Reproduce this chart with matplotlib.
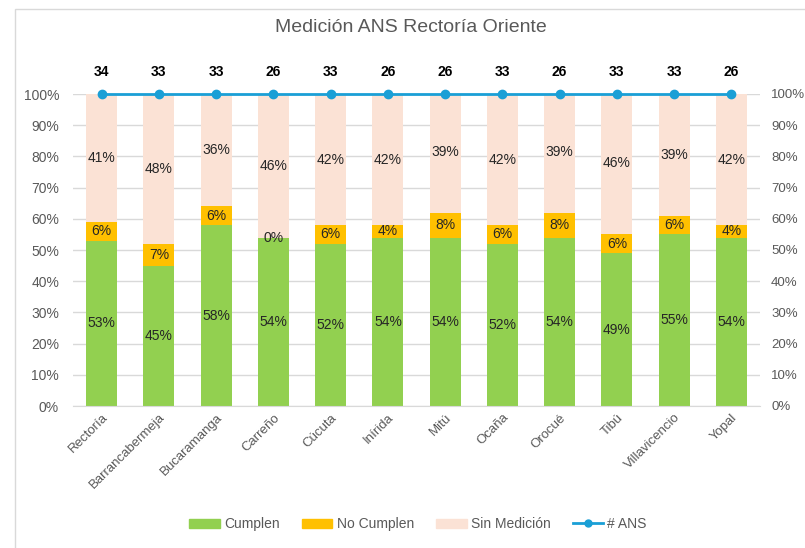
import matplotlib.pyplot as plt
import matplotlib.patches as mpatches
from matplotlib.lines import Line2D
import numpy as np

sedes = ["Rectoría", "Barrancabermeja", "Bucaramanga", "Carreño", "Cúcuta", "Inírida",
         "Mitú", "Ocaña", "Orocué", "Tibú", "Villavicencio", "Yopal"]
cumplen = [53, 45, 58, 54, 52, 54, 54, 52, 54, 49, 55, 54]
no_cumplen = [6, 7, 6, 0, 6, 4, 8, 6, 8, 6, 6, 4]
sin_medicion = [41, 48, 36, 46, 42, 42, 39, 42, 39, 46, 39, 42]
ans = [34, 33, 33, 26, 33, 26, 26, 33, 26, 33, 33, 26]

c_green = "#92D050"
c_yellow = "#FFC000"
c_pink = "#FBE2D5"
c_blue = "#1A9FD6"
c_text = "#595959"

plt.rcParams['font.family'] = ['Liberation Sans', 'DejaVu Sans']

fig = plt.figure(figsize=(8.05, 5.48), dpi=100)
ax = fig.add_axes([73 / 805, 1 - 406 / 548, (760 - 73) / 805, (406 - 94) / 548])

x = np.arange(len(sedes))
g = np.array(cumplen) / 100
y = np.array(no_cumplen) / 100
p = np.array(sin_medicion) / 100
w = 0.54

ax.bar(x, g, w, color=c_green, zorder=2)
ax.bar(x, y, w, bottom=g, color=c_yellow, zorder=2)
ax.bar(x, p, w, bottom=g + y, color=c_pink, zorder=2)

for i in range(len(sedes)):
    ax.text(x[i], g[i] / 2, f"{cumplen[i]}%", ha="center", va="center", fontsize=10, color="#262626", zorder=4)
    ax.text(x[i], g[i] + y[i] / 2, f"{no_cumplen[i]}%", ha="center", va="center", fontsize=10, color="#262626", zorder=4)
    ax.text(x[i], g[i] + y[i] + p[i] / 2, f"{sin_medicion[i]}%", ha="center", va="center", fontsize=10, color="#262626", zorder=4)

ax.set_xlim(-0.5, len(sedes) - 0.5)
ax.set_ylim(0, 1)
ticks = np.arange(0, 1.01, 0.1)
ax.set_yticks(ticks)
ax.set_yticklabels([f"{int(round(t * 100))}%" for t in ticks], fontsize=10, color=c_text)
ax.yaxis.grid(True, color="#D9D9D9", linewidth=1, zorder=0)
ax.set_axisbelow(True)
for s in ["top", "right", "left"]:
    ax.spines[s].set_visible(False)
ax.spines["bottom"].set_color("#D9D9D9")
ax.tick_params(axis="y", length=0, pad=10)
ax.tick_params(axis="x", length=0, pad=4)
ax.set_xticks(x)
ax.set_xticklabels(sedes, rotation=45, ha="right", rotation_mode="anchor", fontsize=9.5, color=c_text)

# secondary axis with # ANS line (total share of each sede)
ax2 = ax.twinx()
ax2.set_ylim(0, 1)
ax2.set_yticks(ticks)
ax2.set_yticklabels([f"{int(round(t * 100))}%" for t in ticks], fontsize=9.5, color=c_text)
ax2.tick_params(axis="y", length=0, pad=8)
for s in ["top", "right", "left", "bottom"]:
    ax2.spines[s].set_visible(False)
total = np.minimum(g + y + p, 1.0)
ax2.plot(x, total, color=c_blue, linewidth=2, marker="o", markersize=6, zorder=5, clip_on=False)
for i in range(len(sedes)):
    ax2.annotate(str(ans[i]), (x[i], total[i]), xytext=(0, 11), textcoords="offset points",
                 ha="center", va="bottom", fontsize=10, fontweight="bold", color="black")

fig.text(411 / 805, 1 - 27 / 548, "Medición ANS Rectoría Oriente",
         ha="center", va="center", fontsize=14, color=c_text)

handles = [mpatches.Patch(color=c_green, label="Cumplen"),
           mpatches.Patch(color=c_yellow, label="No Cumplen"),
           mpatches.Patch(color=c_pink, label="Sin Medición"),
           Line2D([0], [0], color=c_blue, linewidth=2, marker="o", markersize=5, label="# ANS")]
leg = fig.legend(handles=handles, loc="center", bbox_to_anchor=(418 / 805, 1 - 524 / 548),
                 ncol=4, frameon=False, fontsize=10, handlelength=2.2, handleheight=0.6,
                 columnspacing=1.6, handletextpad=0.3)
for t in leg.get_texts():
    t.set_color(c_text)

# chart area border
fig.patches.append(mpatches.Rectangle((15 / 805, -0.01), 1, 1 - 9 / 548 + 0.01,
                                      transform=fig.transFigure, fill=False, edgecolor="#D9D9D9",
                                      linewidth=1))

fig.savefig("out.png", dpi=100)
